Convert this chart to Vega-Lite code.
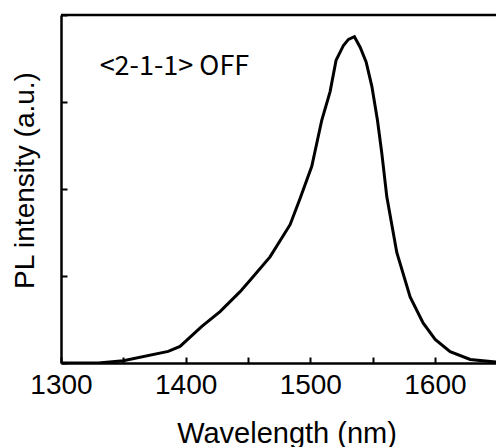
{
  "$schema": "https://vega.github.io/schema/vega-lite/v6.json",
  "width": 435,
  "height": 348,
  "autosize": "none",
  "padding": {"left": 61, "top": 15, "right": 0, "bottom": 84},
  "background": "white",
  "config": {
    "view": {"stroke": null},
    "axis": {
      "grid": false,
      "domainColor": "black",
      "domainWidth": 2.5,
      "tickColor": "black",
      "tickWidth": 2,
      "tickSize": -6,
      "labelFont": "Liberation Sans",
      "labelFontSize": 28,
      "labelColor": "black",
      "titleFont": "Liberation Sans",
      "titleFontSize": 28,
      "titleFontWeight": "normal",
      "titleColor": "black"
    }
  },
  "layer": [
    {
      "data": {
        "values": [
          {"wavelength": 1300, "intensity": 0},
          {"wavelength": 1330, "intensity": 0},
          {"wavelength": 1350, "intensity": 0.026},
          {"wavelength": 1386, "intensity": 0.133},
          {"wavelength": 1395.5, "intensity": 0.19},
          {"wavelength": 1413, "intensity": 0.42},
          {"wavelength": 1427.6, "intensity": 0.59},
          {"wavelength": 1443.7, "intensity": 0.82},
          {"wavelength": 1451.7, "intensity": 0.95},
          {"wavelength": 1467.7, "intensity": 1.22},
          {"wavelength": 1483.8, "intensity": 1.59},
          {"wavelength": 1491.8, "intensity": 1.89},
          {"wavelength": 1501.2, "intensity": 2.26},
          {"wavelength": 1509.2, "intensity": 2.79},
          {"wavelength": 1515.9, "intensity": 3.12},
          {"wavelength": 1520.7, "intensity": 3.48},
          {"wavelength": 1526.6, "intensity": 3.65},
          {"wavelength": 1530.6, "intensity": 3.72},
          {"wavelength": 1535.4, "intensity": 3.75},
          {"wavelength": 1540, "intensity": 3.63},
          {"wavelength": 1544.8, "intensity": 3.46},
          {"wavelength": 1549.4, "intensity": 3.18},
          {"wavelength": 1553.9, "intensity": 2.79},
          {"wavelength": 1557.4, "intensity": 2.41},
          {"wavelength": 1561.4, "intensity": 1.91},
          {"wavelength": 1569.4, "intensity": 1.27},
          {"wavelength": 1580.1, "intensity": 0.76},
          {"wavelength": 1590.5, "intensity": 0.46},
          {"wavelength": 1600.2, "intensity": 0.27},
          {"wavelength": 1612.2, "intensity": 0.13},
          {"wavelength": 1628.3, "intensity": 0.04},
          {"wavelength": 1649, "intensity": 0.01}
        ]
      },
      "mark": {"type": "line", "color": "black", "strokeWidth": 3, "clip": true},
      "encoding": {
        "x": {
          "field": "wavelength",
          "type": "quantitative",
          "title": "Wavelength (nm)",
          "scale": {"domain": [1300, 1649], "nice": false, "zero": false},
          "axis": {
            "values": [1300, 1350, 1400, 1450, 1500, 1550, 1600],
            "labelExpr": "datum.value % 100 == 0 ? datum.label : ''",
            "format": "d",
            "labelFlush": false,
            "labelOverlap": false,
            "labelBound": false,
            "labelPadding": 14,
            "titleFontSize": 29,
            "titleX": 225.5,
            "titleY": 79,
            "titleBaseline": "alphabetic"
          }
        },
        "y": {
          "field": "intensity",
          "type": "quantitative",
          "title": "PL intensity (a.u.)",
          "scale": {"domain": [0, 4], "nice": false},
          "axis": {
            "values": [0, 1, 2, 3, 4],
            "labels": false,
            "titleX": -28,
            "titleY": 165,
            "titleBaseline": "alphabetic"
          }
        }
      }
    },
    {
      "data": {"values": [{}]},
      "mark": {"type": "rule", "color": "black", "strokeWidth": 2.5},
      "encoding": {"y": {"datum": 4, "title": "PL intensity (a.u.)"}}
    },
    {
      "data": {"values": [{}]},
      "mark": {"type": "text", "text": "<2-1-1> OFF", "font": "Noto Sans CJK JP", "fontSize": 27, "align": "left", "baseline": "alphabetic", "color": "black"},
      "encoding": {
        "x": {"datum": 1331, "title": "Wavelength (nm)"},
        "y": {"datum": 3.31, "title": "PL intensity (a.u.)"}
      }
    }
  ]
}
